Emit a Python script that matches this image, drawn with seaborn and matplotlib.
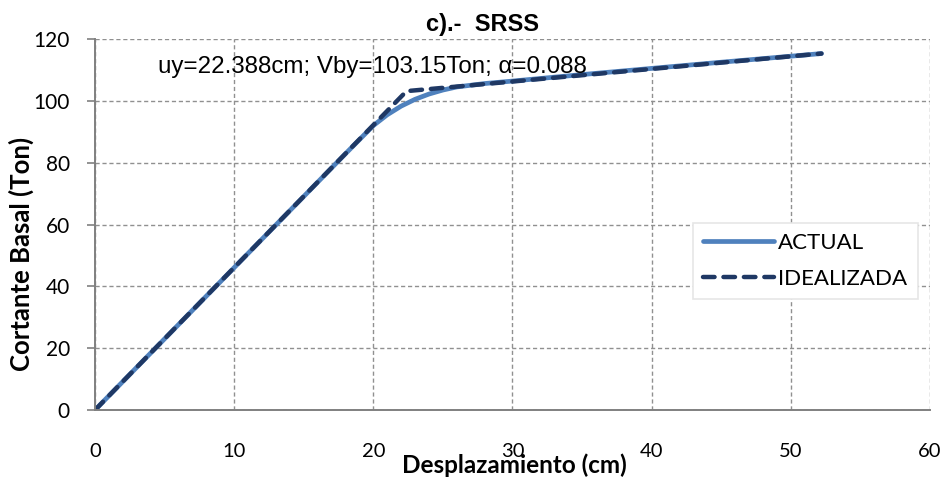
import matplotlib
matplotlib.use("Agg")
import matplotlib.pyplot as plt
import seaborn as sns
import pandas as pd

# Data
actual_x = [0, 18, 20, 21, 22, 23, 24, 25, 26, 28, 30, 35, 40, 45, 52.2]
actual_y = [0, 82.9, 92.0, 95.5, 98.3, 100.5, 102.2, 103.5, 104.5, 105.6, 106.4, 108.5, 110.5, 112.5, 115.3]
ideal_x = [0, 22.388, 52.2]
ideal_y = [0, 103.15, 115.3]
series_names = ["ACTUAL", "IDEALIZADA"]
x_ticks = [0, 10, 20, 30, 40, 50, 60]
y_ticks = [0, 20, 40, 60, 80, 100, 120]

df = pd.concat([
    pd.DataFrame({"x": actual_x, "y": actual_y, "serie": series_names[0]}),
    pd.DataFrame({"x": ideal_x, "y": ideal_y, "serie": series_names[1]}),
])

sns.set_style("white", rc={"text.color": "black", "axes.labelcolor": "black",
                           "xtick.color": "black", "ytick.color": "black"})
plt.rcParams['font.family'] = ['Liberation Sans', 'DejaVu Sans']

fig = plt.figure(figsize=(9.48, 4.8), dpi=100)
ax = fig.add_axes([0.1002, 0.1458, 0.8808, 0.7729])

sns.lineplot(data=df[df.serie == "ACTUAL"], x="x", y="y", ax=ax, color="#4F81BD",
             linewidth=3.4, label="ACTUAL", sort=False)
sns.lineplot(data=df[df.serie == "IDEALIZADA"], x="x", y="y", ax=ax, color="#1F3864",
             linewidth=3.2, label="IDEALIZADA", sort=False)
ln = ax.lines[1]
ln.set_linestyle((0, (2.6, 2.0)))
ln.set_dash_capstyle("round")

ax.set_xlim(0, 60)
ax.set_ylim(0, 120)
ax.set_xticks(x_ticks)
ax.set_yticks(y_ticks)
cal = ['Lato', 'DejaVu Sans']
ax.set_xticklabels([str(t) for t in x_ticks], fontsize=14.5, family=cal)
ax.set_yticklabels([str(t) for t in y_ticks], fontsize=15, family=cal)
ax.tick_params(axis='x', length=0, pad=24)
ax.tick_params(axis='y', length=6, width=1.2, color="#808080", direction='out', pad=12, left=True)

ax.grid(True, linestyle=(0, (3, 2)), color="#909090", linewidth=1)
for s in ["top", "right"]:
    ax.spines[s].set_visible(False)
for s in ["left", "bottom"]:
    ax.spines[s].set_color("#808080")
    ax.spines[s].set_linewidth(1.4)

ax.set_xlabel("Desplazamiento (cm)", fontsize=17.5, fontweight="bold", family=cal,
              va="center", ha="center")
ax.set_ylabel("Cortante Basal (Ton)", fontsize=18.5, fontweight="bold", family=cal,
              va="center", ha="center")
ax.xaxis.set_label_coords(0.502, -0.148)
ax.yaxis.set_label_coords(-0.088, 0.42)
fig.text(482 / 948, 1 - 25 / 480, "c).-  SRSS", ha="center", va="center",
         fontsize=17, fontweight="bold")

ax.text(4.5, 111, "uy=22.388cm; Vby=103.15Ton; α=0.088", fontsize=17.4, va="center", ha="left")

leg = ax.legend(loc="upper left", bbox_to_anchor=(0.716, 0.504), frameon=True,
                prop={"family": cal, "size": 16},
                handlelength=3.2, fancybox=False, borderpad=0.45, labelspacing=0.7,
                handletextpad=0.2, borderaxespad=0)
leg.get_frame().set_edgecolor("#E6E6E6")
leg.get_frame().set_linewidth(1.2)
leg.get_frame().set_alpha(1)

fig.savefig("out.png", dpi=100)
